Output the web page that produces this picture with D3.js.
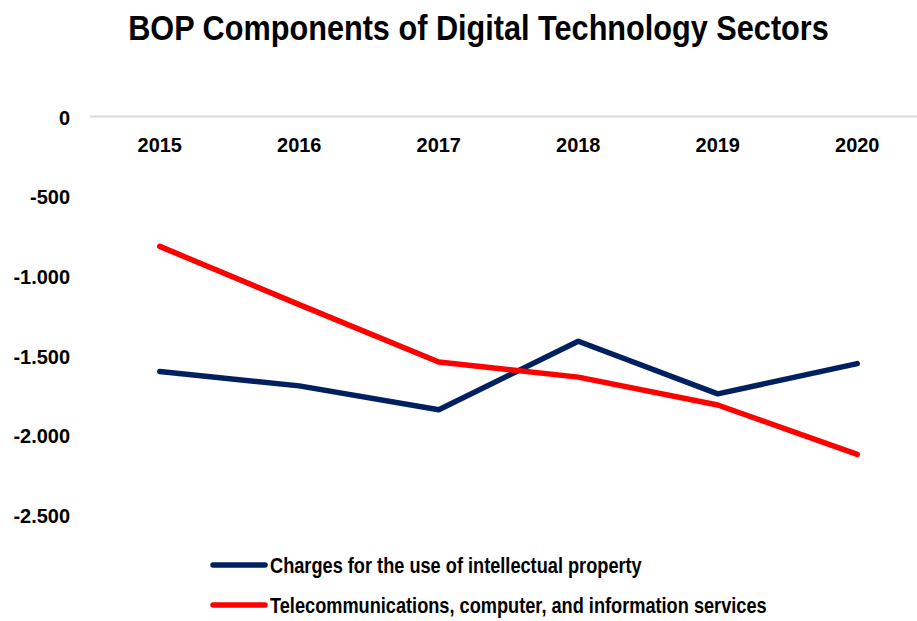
<!DOCTYPE html>
<html>
<head>
<meta charset="utf-8">
<script src="https://cdn.jsdelivr.net/npm/d3@7"></script>
<style>
  html, body { margin: 0; padding: 0; background: #fff; }
  svg { display: block; }
  text { font-family: "Liberation Sans", Arial, sans-serif; font-weight: bold; fill: #000; }
</style>
</head>
<body>
<svg id="chart" width="917" height="621"></svg>
<script>
// Balance of payments components, in millions
const years = ["2015", "2016", "2017", "2018", "2019", "2020"];
const ipCharges = [-1600, -1690, -1840, -1410, -1740, -1550];
const telecomServices = [-815, -1180, -1540, -1635, -1810, -2120];
const yTicks = [0, -500, -1000, -1500, -2000, -2500];
const seriesNames = [
  "Charges for the use of intellectual property",
  "Telecommunications, computer, and information services"
];
const seriesColors = ["#002060", "#ff0000"];

const svg = d3.select("#chart");
const W = 917, H = 621;
const plot = { left: 90, right: 927, top: 116.5, bottom: 515 };

const x = d3.scaleBand().domain(years).range([plot.left, plot.right]);
const y = d3.scaleLinear().domain([0, -2500]).range([plot.top, plot.bottom]);

// Place a condensed text: draw it, then scale it horizontally to a given width
function condensedText(parent, str, px, py, size, width, anchor) {
  const g = parent.append("g");
  const t = g.append("text")
    .attr("text-anchor", anchor)
    .style("font-size", size + "px")
    .text(str);
  const sx = width / t.node().getComputedTextLength();
  g.attr("transform", `translate(${px},${py}) scale(${sx},1)`);
  return g;
}

// Squeeze tick labels slightly around their anchor
function condenseTicks(sel, ratio) {
  sel.each(function () {
    const w = this.getComputedTextLength();
    d3.select(this).attr("textLength", w * ratio).attr("lengthAdjust", "spacingAndGlyphs");
  });
}

// Title
condensedText(svg, "BOP Components of Digital Technology Sectors", 478.5, 40, 35, 701, "middle");

// Zero line
svg.append("line")
  .attr("x1", plot.left).attr("x2", W)
  .attr("y1", y(0)).attr("y2", y(0))
  .attr("stroke", "#d9d9d9").attr("stroke-width", 2);

// Y axis labels (thousands separated by a dot)
const fmt = d3.formatLocale({ decimal: ",", thousands: ".", grouping: [3], currency: ["", ""], minus: "-" }).format(",d");
const yAxis = d3.axisLeft(y).tickValues(yTicks).tickFormat(fmt).tickSize(0).tickPadding(0);
const gy = svg.append("g").attr("transform", `translate(70,0)`).call(yAxis);
gy.select(".domain").remove();
gy.selectAll("text").style("font-size", "21px").attr("font-family", null).attr("dy", "0.36em");
condenseTicks(gy.selectAll("text"), 0.95);

// Year labels under the zero line
const xAxis = d3.axisBottom(x).tickSize(0).tickPadding(0);
const gx = svg.append("g").attr("transform", `translate(0,${y(0) + 21})`).call(xAxis);
gx.select(".domain").remove();
gx.selectAll("text").style("font-size", "21px").attr("font-family", null);
condenseTicks(gx.selectAll("text"), 0.95);

// Lines
const series = [ipCharges, telecomServices];
const line = d3.line()
  .x((d, i) => x(years[i]) + x.bandwidth() / 2)
  .y(d => y(d));

series.forEach((vals, k) => {
  svg.append("path")
    .datum(vals)
    .attr("d", line)
    .attr("fill", "none")
    .attr("stroke", seriesColors[k])
    .attr("stroke-width", 5.5)
    .attr("stroke-linejoin", "round")
    .attr("stroke-linecap", "round");
});

// Legend
const legendWidths = [372, 497];
const legend = svg.append("g");
seriesNames.forEach((name, k) => {
  const ly = 565 + k * 40;
  legend.append("line")
    .attr("x1", 213).attr("x2", 265)
    .attr("y1", ly).attr("y2", ly)
    .attr("stroke", seriesColors[k]).attr("stroke-width", 5.5)
    .attr("stroke-linecap", "round");
  condensedText(legend, name, 270, ly + 8, 22, legendWidths[k], "start");
});
</script>
</body>
</html>
